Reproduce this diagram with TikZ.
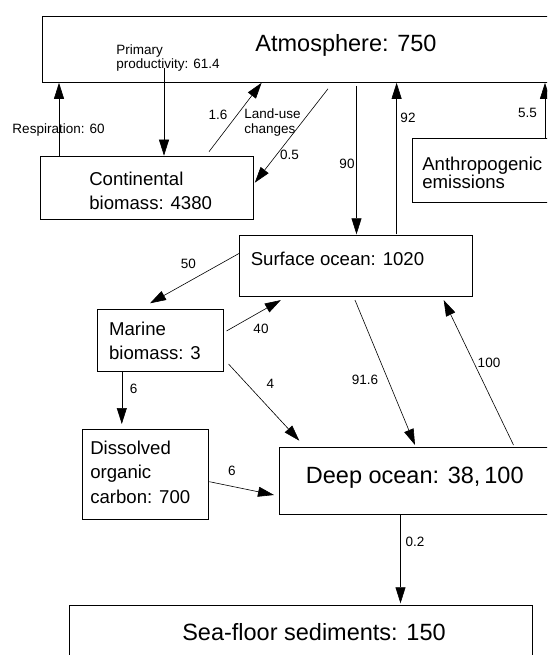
\documentclass[tikz,border=0pt]{standalone}
\usepackage{fontspec}
\setmainfont{Liberation Sans}
\usetikzlibrary{arrows.meta, calc}

\newcommand{\poolfont}{\fontsize{23.5}{27}\selectfont}
\newcommand{\boxfont}{\fontsize{18.6}{24.5}\selectfont}
\newcommand{\fluxfont}{\fontsize{13.5}{14}\selectfont}

\begin{document}
\begin{tikzpicture}[
            > = {Triangle[length=16pt, width=10pt]}, % arrow head style
            x = 1pt, y = -1pt, % sizes in points, y runs down the page
            line width = 0.6pt % line style
        ]

        \tikzstyle{pool}=[
            draw = black,
            line width = 0.8pt,
            anchor = north west,
            inner sep = 0pt
        ]
        % multi-line texts sit on the baseline of their last line
        \tikzstyle{pooltext}=[inner sep = 0pt, align = left, font = \boxfont]
        \tikzstyle{fluxlabel}=[inner sep = 0pt, align = left, font = \fluxfont, anchor = base]

        \useasboundingbox (0,0) rectangle (547,655);
        \clip (0,0) rectangle (547,655);

        % reservoirs
        \node[pool, minimum width = 520pt, minimum height = 66pt] (atm) at (42,16) {};
        \node[pool, minimum width = 213pt, minimum height = 63.3pt] (cont) at (40,155.7) {};
        \node[pool, minimum width = 160pt, minimum height = 64pt] (anth) at (411.6,138.3) {};
        \node[pool, minimum width = 232.4pt, minimum height = 61pt] (surf) at (239.3,235.3) {};
        \node[pool, minimum width = 126.7pt, minimum height = 61.4pt] (mar) at (96.6,309.3) {};
        \node[pool, minimum width = 125.7pt, minimum height = 90pt] (doc) at (82.3,429) {};
        \node[pool, minimum width = 300pt, minimum height = 67.6pt] (deep) at (279,446.7) {};
        \node[pool, minimum width = 462.7pt, minimum height = 80pt] (sed) at (69,605) {};

        \node[pooltext, font = \poolfont, anchor = base] (atmtxt) at (346,51.7) {Atmosphere: 750};
        \node[pooltext, anchor = base west] (conttxt) at (89,209.7) {Continental\\biomass: 4380};
        \node[pooltext, anchor = base west, font = \fontsize{18.6}{18.5}\selectfont] (anthtxt) at (422,189) {Anthropogenic\\emissions};
        \node[pooltext, anchor = base west] (surftxt) at (250.5,265.7) {Surface ocean: 1020};
        \node[pooltext, anchor = base west] (martxt) at (108.8,359.7) {Marine\\biomass: 3};
        \node[pooltext, anchor = base west] (doctxt) at (90,503) {Dissolved\\organic\\carbon: 700};
        \node[pooltext, font = \poolfont, anchor = base] (deeptxt) at (414.8,483.4) {Deep ocean: 38,\,100};
        \node[pooltext, font = \poolfont, anchor = base] (sedtxt) at (314,640) {Sea-floor sediments: 150};

        % fluxes
        \path[->] ($(cont.north west)+(19,0)$) edge ($(atm.south west)+(17,0)$);
        \path[->] ($(atm.north west)+(122,52)$) edge ($(cont.north west)+(124,0)$);
        \path[->] ($(cont.north west)+(169,-4)$) edge ($(atm.south west)+(219.6,0)$);
        \path[->] ($(atm.south west)+(286,6)$) edge ($(cont.north east)+(1,27)$);
        \path[->] ($(atm.south west)+(314.5,3)$) edge ($(surf.north west)+(117.2,-1)$);
        \path[->] ($(surf.north west)+(157.3,-1)$) edge ($(atm.south west)+(354.6,0)$);
        \path[->] ($(anth.north west)+(133.4,0)$) edge ($(atm.south west)+(503,0)$);
        \path[->] ($(surf.north west)+(0,18)$) edge ($(mar.north west)+(53.4,-6)$);
        \path[->] ($(mar.north east)+(2.4,21.7)$) edge ($(surf.south west)+(41.5,3)$);
        \path[->] ($(mar.south east)+(4.5,-7.4)$) edge ($(deep.north west)+(20.3,-6)$);
        \path[->] ($(mar.south west)+(25.2,0)$) edge ($(doc.north west)+(39.5,-5)$);
        \path[->] ($(surf.south west)+(115.7,3)$) edge ($(deep.north west)+(136,-1.7)$);
        \path[->] ($(deep.north west)+(234.5,-1.7)$) edge ($(surf.south west)+(204.4,3)$);
        \path[->] ($(doc.north east)+(0.6,52.7)$) edge ($(deep.north west)+(-5,48.3)$);
        \path[->] ($(deep.south west)+(121.5,0)$) edge ($(sed.north west)+(331.5,-1.7)$);

        \node[fluxlabel, anchor = base west] (f-resp) at (12.2,133.1) {Respiration: 60};
        \node[fluxlabel, anchor = base west] (f-prim) at (116,68.1) {Primary\\productivity: 61.4};
        \node[fluxlabel] (f-gain) at (218,119.8) {1.6};
        \node[fluxlabel, anchor = base west, font = \fontsize{13.5}{15}\selectfont] (f-land) at (244,133.1) {Land-use\\changes};
        \node[fluxlabel] (f-loss) at (289.6,159.1) {0.5};
        \node[fluxlabel] (f-down) at (347,168.1) {90};
        \node[fluxlabel] (f-up) at (408,122.1) {92};
        \node[fluxlabel] (f-anth) at (527.5,117.1) {5.5};
        \node[fluxlabel] (f-uptake) at (188.4,268.1) {50};
        \node[fluxlabel] (f-resp2) at (261,333.1) {40};
        \node[fluxlabel] (f-sink) at (270.4,388.1) {4};
        \node[fluxlabel] (f-doc) at (133.6,393.1) {6};
        \node[fluxlabel] (f-mix) at (365,384.1) {91.6};
        \node[fluxlabel] (f-upwell) at (489,367.5) {100};
        \node[fluxlabel] (f-docdeep) at (232,475.5) {6};
        \node[fluxlabel] (f-burial) at (415,546.5) {0.2};

  \end{tikzpicture}
\end{document}
